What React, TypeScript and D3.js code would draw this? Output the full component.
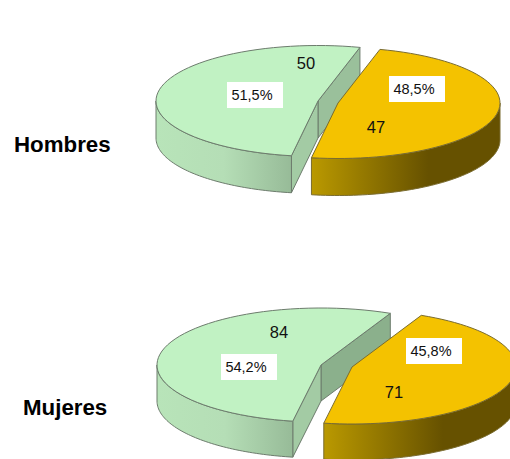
import React from "react";
import * as d3 from "d3";

const rowNames = ["Hombres", "Mujeres"];
const sliceNames = ["Orange", "Green"];
const hombresValues = [47, 50];
const mujeresValues = [71, 84];
const hombresPct = ["48,5%", "51,5%"];
const mujeresPct = ["45,8%", "54,2%"];

const rad = (d: number) => (d * Math.PI) / 180;

const layouts = [
  {
    name: rowNames[0], values: hombresValues, pct: hombresPct, start: 15, rx: 162, ry: 55.5, depth: 37,
    orange: [338, 103], green: [318, 101],
    nameAt: [14, 152], size: 22.3,
    pctBox: [[389, 76], [227, 82]], numAt: [[376, 127], [306, 63]],
  },
  {
    name: rowNames[1], values: mujeresValues, pct: mujeresPct, start: 25, rx: 164, ry: 57, depth: 36,
    orange: [352, 367], green: [321, 365],
    nameAt: [23, 415], size: 22.3,
    pctBox: [[406, 338], [221, 354]], numAt: [[394, 392], [279, 332]],
  },
];

function Pie3D({ l, idx }: { l: (typeof layouts)[number]; idx: number }) {
  const arcs = d3.pie<number>().sort(null).startAngle(rad(l.start)).endAngle(rad(l.start + 360))(l.values);
  const [oArc, gArc] = arcs;
  const pt = (c: number[], a: number, dy = 0): [number, number] => [
    c[0] + l.rx * Math.sin(a),
    c[1] - l.ry * Math.cos(a) + dy,
  ];
  const curve = (c: number[], a0: number, a1: number, dy = 0) =>
    d3.range(0, 61).map((i) => pt(c, a0 + ((a1 - a0) * i) / 60, dy));
  const line = d3.line();
  const poly = (pts: [number, number][]) => line(pts) + "Z";

  const top = (c: number[], a0: number, a1: number) =>
    poly([[c[0], c[1]] as [number, number], ...curve(c, a0, a1)]);
  const wall = (c: number[], a0: number, a1: number) =>
    poly([...curve(c, a0, a1), ...curve(c, a1, a0, l.depth)]);
  const face = (c: number[], a: number) => {
    const p = pt(c, a);
    return poly([[c[0], c[1]], p, [p[0], p[1] + l.depth], [c[0], c[1] + l.depth]]);
  };

  const gc = l.green;
  const oc = l.orange;
  const stroke = "#6d7c6d";
  const gid = `g${idx}`;
  const oid = `o${idx}`;
  const backShade = idx === 0 ? "#9ac09b" : "#8bb08c";

  return (
    <g>
      <defs>
        <linearGradient id={gid} gradientUnits="userSpaceOnUse" x1={gc[0] - l.rx} x2={pt(gc, gArc.startAngle)[0]} y1={0} y2={0}>
          <stop offset="0" stopColor="#b8e4b9" />
          <stop offset="0.5" stopColor="#b5deb6" />
          <stop offset="1" stopColor="#97bb98" />
        </linearGradient>
        <linearGradient id={oid} gradientUnits="userSpaceOnUse" x1={pt(oc, oArc.endAngle)[0]} x2={oc[0] + l.rx} y1={0} y2={0}>
          <stop offset="0" stopColor="#ba9900" />
          <stop offset="0.62" stopColor="#665100" />
          <stop offset="1" stopColor="#665100" />
        </linearGradient>
      </defs>
      <path d={face(gc, gArc.endAngle)} fill={backShade} stroke={stroke} strokeWidth={1} />
      <path d={face(gc, gArc.startAngle)} fill="#a3cba4" stroke={stroke} strokeWidth={1} />
      <path d={wall(gc, gArc.startAngle, rad(270))} fill={`url(#${gid})`} stroke={stroke} strokeWidth={1} />
      <path d={top(gc, gArc.startAngle, gArc.endAngle)} fill="#c1f2c3" stroke={stroke} strokeWidth={1} />
      <path d={wall(oc, rad(90), oArc.endAngle)} fill={`url(#${oid})`} stroke="#7a6c30" strokeWidth={1} />
      <path d={top(oc, oArc.startAngle, oArc.endAngle)} fill="#f4c200" stroke="#7a6c30" strokeWidth={1} />
      {l.pct.map((p, i) => (
        <g key={sliceNames[i]}>
          <rect x={l.pctBox[i][0]} y={l.pctBox[i][1]} width={56} height={26} fill="#fff" />
          <text x={l.pctBox[i][0] + 25} y={l.pctBox[i][1] + 18} textAnchor="middle" fontSize={14.5} fill="#111">{p}</text>
          <text x={l.numAt[i][0]} y={l.numAt[i][1]} dy="0.36em" textAnchor="middle" fontSize={16.5} fill="#111">{l.values[i]}</text>
        </g>
      ))}
      <text x={l.nameAt[0]} y={l.nameAt[1]} fontSize={l.size} fontWeight="bold" fill="#000">{l.name}</text>
    </g>
  );
}

export default function App() {
  return (
    <svg width={510} height={459} viewBox="0 0 510 459"
      style={{ position: "absolute", left: 0, top: 0, fontFamily: "'Liberation Sans', Arial, sans-serif", background: "#fff" }}>
      {layouts.map((l, i) => <Pie3D key={l.name} l={l} idx={i} />)}
    </svg>
  );
}
